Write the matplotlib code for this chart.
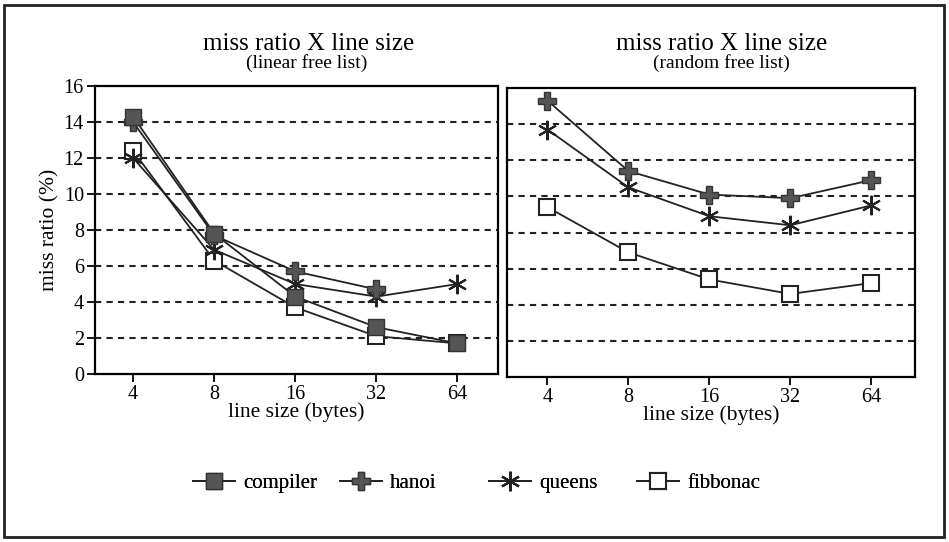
import matplotlib
matplotlib.use("Agg")
import matplotlib.pyplot as plt
from matplotlib.patches import Rectangle

plt.rcParams['font.family'] = ['Liberation Serif', 'DejaVu Serif']

line_sizes = ['4', '8', '16', '32', '64']
xpos = [0, 1, 2, 3, 4]

# left panel: linear free list
lin_compiler = [14.3, 7.8, 4.3, 2.6, 1.7]
lin_hanoi = [14.0, 7.7, 5.7, 4.7]
lin_queens = [12.0, 6.9, 5.0, 4.3, 5.0]
lin_fibbonac = [12.4, 6.3, 3.7, 2.1, 1.7]

# right panel: random free list
rnd_hanoi = [15.3, 11.4, 10.1, 9.9, 10.9]
rnd_queens = [13.7, 10.5, 8.9, 8.4, 9.5]
rnd_fibbonac = [9.4, 6.9, 5.4, 4.6, 5.2]

fig = plt.figure(figsize=(9.49, 5.42), dpi=100)
W, H = 949, 542

def box(l, t, r, b):
    return [l / W, 1 - b / H, (r - l) / W, (b - t) / H]

ax1 = fig.add_axes(box(95, 86, 498, 374))
ax2 = fig.add_axes(box(507, 88, 915, 377))

styles = {
    'compiler': dict(marker='s', markersize=12, markerfacecolor='#555555', markeredgecolor='#333333'),
    'hanoi': dict(marker='P', markersize=13, markerfacecolor='#555555', markeredgecolor='#333333'),
    'queens': dict(marker=(6, 2, 0), markersize=14, markeredgewidth=1.5, markeredgecolor='#222222'),
    'fibbonac': dict(marker='s', markersize=12, markerfacecolor='white', markeredgecolor='#222222',
                     markeredgewidth=1.5),
}
order = {'compiler': 4, 'hanoi': 3, 'queens': 2, 'fibbonac': 1}

def draw(ax, name, vals):
    return ax.plot(xpos[:len(vals)], vals, color='#222222', lw=1.3, label=name,
                   zorder=order[name], **styles[name])[0]

h_comp = draw(ax1, 'compiler', lin_compiler)
h_hanoi = draw(ax1, 'hanoi', lin_hanoi)
h_queens = draw(ax1, 'queens', lin_queens)
h_fib = draw(ax1, 'fibbonac', lin_fibbonac)

draw(ax2, 'hanoi', rnd_hanoi)
draw(ax2, 'queens', rnd_queens)
draw(ax2, 'fibbonac', rnd_fibbonac)

for ax in (ax1, ax2):
    ax.set_ylim(0, 16)
    ax.set_xticks(xpos)
    ax.set_xticklabels(line_sizes)
    ax.set_yticks(range(0, 17, 2))
    for y in range(2, 16, 2):
        ax.axhline(y, color='#222222', lw=1.5, ls=(0, (3, 2.5)), zorder=0)
    for s in ax.spines.values():
        s.set_linewidth(1.6)
    ax.tick_params(axis='both', direction='out', length=6, width=1.3, labelsize=14.5, pad=2)
    ax.set_xlabel('line size (bytes)', fontsize=15.5, labelpad=-1)

ax1.set_xlim(-0.47, 4.5)
ax2.set_xlim(-0.5, 4.54)
ax1.set_ylabel('miss ratio (%)', fontsize=15.5, labelpad=3)
ax2.set_yticks([])

fig.text(309 / W, 1 - 44 / H, 'miss ratio X line size', ha='center', va='center', fontsize=18)
fig.text(307 / W, 1 - 63 / H, '(linear free list)', ha='center', va='center', fontsize=14)
fig.text(722 / W, 1 - 44 / H, 'miss ratio X line size', ha='center', va='center', fontsize=18)
fig.text(721 / W, 1 - 63 / H, '(random free list)', ha='center', va='center', fontsize=14)

# legend entries sit in evenly spaced slots
leg_handles = [h_comp, h_hanoi, h_queens, h_fib]
leg_labels = ['compiler', 'hanoi', 'queens', 'fibbonac']
leg_x = [193, 340, 489, 637]
for hd, lb, lx in zip(leg_handles, leg_labels, leg_x):
    lg = fig.legend([hd], [lb], loc='center left', bbox_to_anchor=(lx / W, 1 - 483 / H),
                    frameon=False, fontsize=15, handlelength=2.0, handletextpad=0.4,
                    borderpad=0, borderaxespad=0)
    fig.add_artist(lg)

fig.patches.append(Rectangle((4 / W, 5 / H), 940 / W, 532 / H, transform=fig.transFigure,
                             fill=False, lw=2, edgecolor='#222222'))

fig.savefig('out.png', dpi=100)
